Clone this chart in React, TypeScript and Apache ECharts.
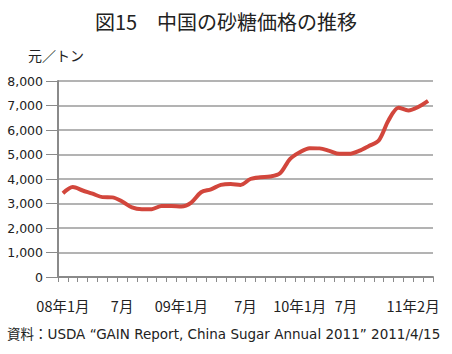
import React, { useEffect, useRef } from "react";
import * as echarts from "echarts";

const months: string[] = [];
for (let y = 2008; y <= 2011; y++) {
  for (let m = 1; m <= 12; m++) {
    if (y === 2011 && m > 2) break;
    months.push(`${String(y).slice(2)}年${m}月`);
  }
}
const prices = [
  3420, 3670, 3530, 3400, 3260, 3250, 3080, 2840, 2770, 2770, 2900, 2900,
  2880, 3040, 3460, 3580, 3760, 3800, 3760, 4000, 4070, 4100, 4230, 4810,
  5090, 5260, 5250, 5150, 5030, 5030, 5150, 5350, 5570, 6400, 6910, 6800,
  6940, 7190,
];
const labelMap: Record<number, string> = {
  0: "{a|08年1月}",
  6: "{a|7月}",
  12: "{a|09年1月}",
  18: "{b|7月}",
  24: "{a|10年1月}",
  30: "{c|7月}",
  37: "{d|11年2月}",
};
const titleText = "図15　中国の砂糖価格の推移";
const unitText = "元／トン";
const sourceText = "資料：USDA “GAIN Report, China Sugar Annual 2011” 2011/4/15";

const FONT = "'Noto Sans CJK JP', 'Noto Sans', sans-serif";
const LATIN = "'DejaVu Sans', 'Noto Sans CJK JP', sans-serif";
const NUM = "'DejaVu Sans', sans-serif";

export default function App() {
  const ref = useRef<HTMLDivElement>(null);
  useEffect(() => {
    if (!ref.current) return;
    const chart = echarts.init(ref.current, null, { renderer: "svg" });
    const xl = { fontFamily: FONT, fontSize: 14.5, color: "#222" };
    chart.setOption({
      animation: false,
      backgroundColor: "#ffffff",
      title: {
        text: titleText,
        left: "center",
        top: 6,
        textStyle: { fontFamily: FONT, fontSize: 20, fontWeight: "normal", color: "#222" },
      },
      graphic: [
        {
          type: "text",
          left: 28,
          top: 48,
          style: { text: unitText, font: `14px ${FONT}`, fill: "#222" },
        },
        {
          type: "text",
          left: 7,
          top: 327,
          style: { text: sourceText, font: `13.5px ${LATIN}`, fill: "#222" },
        },
      ],
      grid: { left: 58, right: 19, top: 81, bottom: 77, containLabel: false },
      xAxis: {
        type: "category",
        data: months,
        boundaryGap: true,
        axisLine: { lineStyle: { color: "#8a8a8a", width: 2 } },
        axisTick: { show: true, interval: 0, length: 5, lineStyle: { color: "#8a8a8a", width: 1 } },
        axisLabel: {
          interval: (i: number) => labelMap[i] !== undefined,
          formatter: (_v: string, i: number) => labelMap[i] ?? "",
          margin: 21,
          ...xl,
          rich: {
            a: { ...xl },
            b: { ...xl, padding: [0, 0, 0, 10] },
            c: { ...xl, padding: [0, 26, 0, 0] },
            d: { ...xl, padding: [0, 30, 0, 0] },
          },
        },
        splitLine: { show: false },
      },
      yAxis: {
        type: "value",
        min: 0,
        max: 8000,
        interval: 1000,
        axisLine: { show: true, lineStyle: { color: "#8a8a8a", width: 2 } },
        axisTick: { show: true, length: 12, lineStyle: { color: "#8a8a8a", width: 1 } },
        axisLabel: {
          margin: 15,
          color: "#222",
          fontFamily: NUM,
          fontSize: 12.5,
          formatter: (v: number) => v.toLocaleString("en-US"),
        },
        splitLine: { lineStyle: { color: "#9a9a9a", width: 1.5 } },
      },
      series: [
        {
          type: "line",
          data: prices,
          symbol: "none",
          smooth: 0.3,
          lineStyle: { color: "#d2463c", width: 4 },
        },
      ],
    });
    return () => chart.dispose();
  }, []);
  return (
    <div
      ref={ref}
      style={{ position: "fixed", left: 0, top: 0, width: 452, height: 354 }}
    />
  );
}
